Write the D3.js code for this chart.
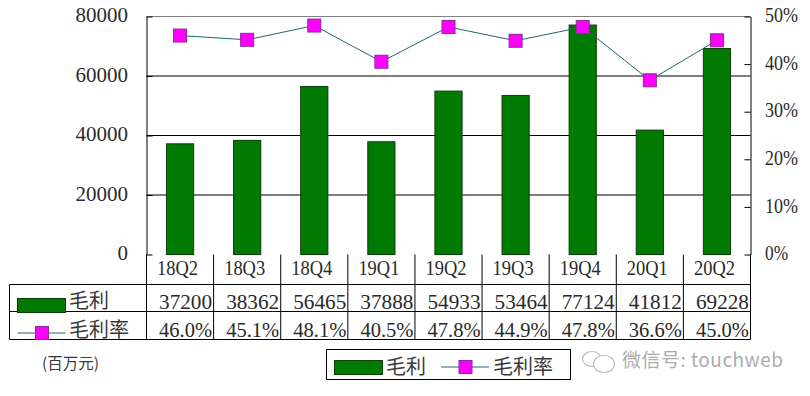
<!DOCTYPE html>
<html>
<head>
<meta charset="utf-8">
<script src="https://cdn.jsdelivr.net/npm/d3@7"></script>
<style>
html, body { margin: 0; padding: 0; background: #fff; }
svg { display: block; }
text { fill: #2a2a2a; }
.num { font-family: "Liberation Serif", serif; }
.cjk { font-family: "Noto Sans CJK SC", sans-serif; font-weight: 400; fill: #3a3a3a; }
</style>
</head>
<body>
<div id="chart"></div>
<script>
const quarters = ['18Q2', '18Q3', '18Q4', '19Q1', '19Q2', '19Q3', '19Q4', '20Q1', '20Q2'];
const grossProfit = [37200, 38362, 56465, 37888, 54933, 53464, 77124, 41812, 69228];
const grossMargin = [46.0, 45.1, 48.1, 40.5, 47.8, 44.9, 47.8, 36.6, 45.0];
const profitTicks = [0, 20000, 40000, 60000, 80000];
const marginTicks = [0, 10, 20, 30, 40, 50];
const profitName = '毛利';
const marginName = '毛利率';
const unitLabel = '(百万元)';
const watermark = '微信号: touchweb';

const width = 810, height = 396;
const plot = { left: 146.5, right: 750.5, top: 16.5, bottom: 254.5 };
const rows = { head: 284.5, profit: 311.5, margin: 339.5 }; // table row bottoms
const tableLeft = 9.5;

const green = '#007a00', magenta = '#ff00ff', teal = '#22666f';

const svg = d3.select('#chart').append('svg')
    .attr('width', width)
    .attr('height', height);

const x = d3.scaleBand().domain(quarters).range([plot.left, plot.right]);
const yProfit = d3.scaleLinear().domain([0, 80000]).range([plot.bottom, plot.top]);
const yMargin = d3.scaleLinear().domain([0, 50]).range([plot.bottom, plot.top]);
const barWidth = x.bandwidth() * 0.405;

// gridlines
svg.append('g')
    .selectAll('line')
    .data(profitTicks.slice(1))
    .join('line')
    .attr('x1', plot.left).attr('x2', plot.right)
    .attr('y1', d => yProfit(d)).attr('y2', d => yProfit(d))
    .attr('stroke', d => d === 80000 ? '#808080' : '#000');

// left axis, ticks point inward
const leftAxis = svg.append('g')
    .attr('transform', `translate(${plot.left},0)`)
    .call(d3.axisLeft(yProfit).tickValues(profitTicks).tickFormat(d3.format('d'))
        .tickSizeInner(-6).tickSizeOuter(0).tickPadding(18.5));
leftAxis.selectAll('path,line').attr('stroke', '#000');
leftAxis.selectAll('text')
    .attr('class', 'num')
    .attr('dy', '.25em')
    .style('font-size', '21px')
    .style('fill', '#2a2a2a');

// bars
svg.append('g')
    .selectAll('rect')
    .data(grossProfit)
    .join('rect')
    .attr('x', (d, i) => x(quarters[i]) + (x.bandwidth() - barWidth) / 2)
    .attr('width', barWidth)
    .attr('y', d => yProfit(d))
    .attr('height', d => plot.bottom - yProfit(d))
    .attr('fill', green)
    .attr('stroke', '#0b3d0b');

// right axis
const rightAxis = svg.append('g')
    .attr('transform', `translate(${plot.right},0)`)
    .call(d3.axisRight(yMargin).tickValues(marginTicks).tickFormat(d => d + '%')
        .tickSizeInner(-6).tickSizeOuter(0).tickPadding(14.5));
rightAxis.selectAll('path,line').attr('stroke', '#000');
rightAxis.selectAll('text')
    .attr('class', 'num')
    .attr('dy', '.25em')
    .attr('textLength', d => d === 0 ? 23 : 33)
    .attr('lengthAdjust', 'spacingAndGlyphs')
    .style('font-size', '21px')
    .style('fill', '#2a2a2a');

// margin line + markers
const line = d3.line()
    .x((d, i) => x(quarters[i]) + x.bandwidth() / 2)
    .y(d => yMargin(d));
svg.append('path')
    .datum(grossMargin)
    .attr('d', line)
    .attr('fill', 'none')
    .attr('stroke', teal);

const marker = 13;
svg.append('g')
    .selectAll('rect')
    .data(grossMargin)
    .join('rect')
    .attr('x', (d, i) => x(quarters[i]) + x.bandwidth() / 2 - marker / 2)
    .attr('y', d => yMargin(d) - marker / 2)
    .attr('width', marker)
    .attr('height', marker)
    .attr('fill', magenta)
    .attr('stroke', '#8a2a9a');

// table grid
const table = svg.append('g').attr('stroke', '#000').attr('fill', 'none');
table.selectAll('.col')
    .data(quarters)
    .join('line')
    .attr('class', 'col')
    .attr('x1', d => x(d) + x.bandwidth()).attr('x2', d => x(d) + x.bandwidth())
    .attr('y1', plot.bottom).attr('y2', rows.margin);
table.append('line').attr('x1', plot.left).attr('x2', plot.left).attr('y1', plot.bottom).attr('y2', rows.margin);
table.append('line').attr('x1', tableLeft).attr('x2', tableLeft).attr('y1', rows.head).attr('y2', rows.margin);
table.selectAll('.row')
    .data([rows.head, rows.profit, rows.margin])
    .join('line')
    .attr('class', 'row')
    .attr('x1', tableLeft).attr('x2', plot.right)
    .attr('y1', d => d).attr('y2', d => d);

// table text
const cellText = (data, yPos, dx, len, fmt) => svg.append('g')
    .selectAll('text')
    .data(data)
    .join('text')
    .attr('class', 'num')
    .attr('x', (d, i) => x(quarters[i]) + x.bandwidth() / 2 + dx)
    .attr('y', yPos)
    .attr('text-anchor', 'middle')
    .attr('textLength', len)
    .attr('lengthAdjust', 'spacingAndGlyphs')
    .style('font-size', '20.5px')
    .text(fmt);

cellText(quarters, 274.5, -2.5, 41, d => d);
cellText(grossProfit, 309, 5.5, 53, d => d);
cellText(grossMargin, 337, 5.5, 53, d => d.toFixed(1) + '%');

// legend keys, shared by the table and the box under it
const drawBarKey = (kx, ky) => svg.append('rect')
    .attr('x', kx).attr('y', ky).attr('width', 48).attr('height', 14)
    .attr('fill', green).attr('stroke', '#0b3d0b');
const drawLineKey = (kx, ky) => {
    svg.append('line')
        .attr('x1', kx).attr('x2', kx + 48).attr('y1', ky).attr('y2', ky)
        .attr('stroke', teal);
    svg.append('rect')
        .attr('x', kx + 18).attr('y', ky - 6.5).attr('width', marker).attr('height', marker)
        .attr('fill', magenta).attr('stroke', '#8a2a9a');
};
const cjkLabel = (str, lx, ly, size) => svg.append('text')
    .attr('class', 'cjk')
    .attr('x', lx).attr('y', ly)
    .style('font-size', size + 'px')
    .text(str);

drawBarKey(17.5, 298.5);
cjkLabel(profitName, 69, 308, 20);
drawLineKey(17.5, 333);
cjkLabel(marginName, 69, 337, 20);

svg.append('rect')
    .attr('x', 326.5).attr('y', 349.5).attr('width', 244).attr('height', 30)
    .attr('fill', '#fff').attr('stroke', '#000');
drawBarKey(334.5, 360.5);
cjkLabel(profitName, 386, 373.5, 20);
drawLineKey(441, 367);
cjkLabel(marginName, 493, 373.5, 20);

cjkLabel(unitLabel, 42, 369, 15.5);

// watermark
const mark = svg.append('g').attr('fill', '#fff').attr('stroke', '#bdbdbd').attr('stroke-width', 1.2);
mark.append('ellipse').attr('cx', 592).attr('cy', 359).attr('rx', 9.5).attr('ry', 7.5);
mark.append('ellipse').attr('cx', 604).attr('cy', 364).attr('rx', 10.5).attr('ry', 8.5);
svg.append('text')
    .attr('x', 622).attr('y', 367)
    .attr('textLength', 161)
    .attr('font-family', '"Noto Sans CJK SC", sans-serif')
    .style('font-size', '19px')
    .style('fill', '#acacac')
    .text(watermark);
</script>
</body>
</html>
